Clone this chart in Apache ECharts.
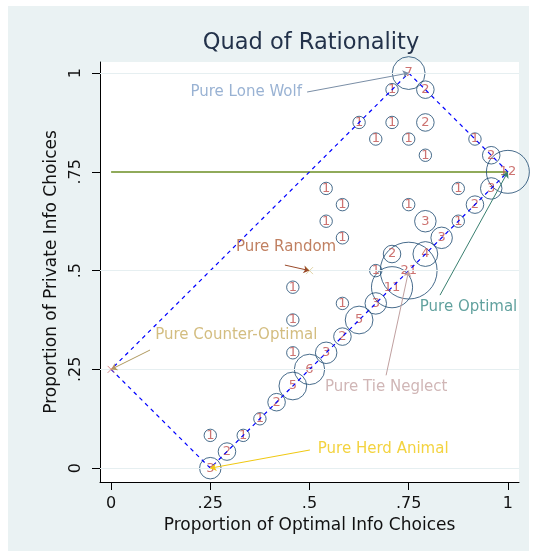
<!DOCTYPE html>
<html>
<head>
<meta charset="utf-8">
<script src="https://cdn.jsdelivr.net/npm/echarts@6/dist/echarts.min.js"></script>
<style>
  html, body { margin: 0; padding: 0; background: #fff; }
  #chart { width: 545px; height: 551px; }
</style>
</head>
<body>
<div id="chart"></div>
<script>
// ****** data ******
// proportion of optimal info choices (x), private info choices (y), number of subjects
var optX  = [0.75, 0.708, 0.792, 0.625, 0.708, 0.792, 0.667, 0.75, 0.792, 0.917, 0.958, 1.0,
             0.958, 0.875, 0.917, 0.875, 0.792, 0.833, 0.75, 0.792, 0.708, 0.75, 0.708, 0.667,
             0.667, 0.583, 0.625, 0.458, 0.458, 0.542, 0.583, 0.542, 0.583, 0.583, 0.458, 0.542,
             0.5, 0.458, 0.417, 0.375, 0.333, 0.25, 0.292, 0.25];
var privY = [1.0, 0.958, 0.958, 0.875, 0.875, 0.875, 0.833, 0.833, 0.792, 0.833, 0.792, 0.75,
             0.708, 0.708, 0.667, 0.625, 0.625, 0.583, 0.667, 0.542, 0.542, 0.5, 0.458, 0.5,
             0.417, 0.417, 0.375, 0.458, 0.375, 0.708, 0.667, 0.625, 0.583, 0.333, 0.292, 0.292,
             0.25, 0.208, 0.167, 0.125, 0.083, 0.083, 0.042, 0.0];
var counts = [7, 1, 2, 1, 1, 2, 1, 1, 1, 1, 2, 12,
              3, 1, 2, 1, 3, 3, 1, 4, 2, 21, 11, 1,
              3, 1, 5, 1, 1, 1, 1, 1, 1, 2, 1, 3,
              6, 5, 2, 1, 1, 1, 2, 3];

// quad corners (herd animal, counter-optimal, lone wolf, optimal)
var quadX = [0.25, 0, 0.75, 1, 0.25];
var quadY = [0, 0.25, 1, 0.75, 0];

// horizontal reference line
var refLineY = 0.75;
var refLineX = [0, 1];

var tickVals = [0, 0.25, 0.5, 0.75, 1];
var tickText = ['0', '.25', '.5', '.75', '1'];

// annotations: label, text anchor, arrow start, arrow end
var notes = ['Pure Lone Wolf', 'Pure Random', 'Pure Counter-Optimal', 'Pure Tie Neglect', 'Pure Optimal', 'Pure Herd Animal'];
var noteX = [0.481, 0.441, 0.111, 0.539, 0.778, 0.521];
var noteY = [0.952, 0.560, 0.337, 0.205, 0.408, 0.048];
var fromX = [0.494, 0.438, 0.098, 0.693, 0.829, 0.501];
var fromY = [0.952, 0.514, 0.299, 0.235, 0.438, 0.046];
var toX   = [0.75, 0.5, 0, 0.75, 1, 0.25];
var toY   = [1.0, 0.5, 0.25, 0.5, 0.75, 0];
var noteColor = ['#7f9fc8', '#b0603a', '#c8ac60', '#c4a4a4', '#3a8a86', '#f0c810'];
var lineColor = ['#7a8ea6', '#9a4a2a', '#b09a60', '#c0a0a0', '#3a8070', '#f0c810'];
var notePos   = ['left', 'inside', 'right', 'right', 'right', 'right'];

var FONT = 'DejaVu Sans, Verdana, sans-serif';

var pts = [];
for (var i = 0; i < optX.length; i++) {
    pts.push([optX[i], privY[i], counts[i]]);
}
var quad = [];
for (var i = 0; i < quadX.length; i++) {
    quad.push([quadX[i], quadY[i]]);
}
var noteData = [];
var arrowData = [];
for (var i = 0; i < notes.length; i++) {
    noteData.push({
        name: notes[i],
        value: [noteX[i], noteY[i]],
        label: { position: notePos[i], color: noteColor[i], distance: 0 }
    });
    arrowData.push({
        coords: [[fromX[i], fromY[i]], [toX[i], toY[i]]],
        lineStyle: { color: lineColor[i] }
    });
}

var chart = echarts.init(document.getElementById('chart'));
var option = {
    animation: false,
    backgroundColor: '#fff',
    textStyle: { fontFamily: FONT },
    graphic: [{
        type: 'rect', z: -1,
        shape: { x: 8, y: 6, width: 521, height: 545 },
        style: { fill: '#eaf2f3' }
    }],
    title: {
        text: 'Quad of Rationality',
        left: 306, top: 27, textAlign: 'center',
        textStyle: { fontSize: 22.5, fontWeight: 'normal', color: '#23324a', fontFamily: FONT }
    },
    grid: {
        left: 100, right: 26, top: 62, bottom: 69,
        show: true, backgroundColor: '#fff', borderWidth: 0
    },
    xAxis: {
        type: 'value', min: -0.028, max: 1.028,
        name: 'Proportion of Optimal Info Choices',
        nameLocation: 'middle', nameGap: 28,
        nameTextStyle: { fontSize: 17, color: '#111', fontFamily: FONT },
        axisLine: { show: true, onZero: false, lineStyle: { color: '#000' } },
        axisTick: { show: true, length: 8, customValues: tickVals, lineStyle: { color: '#000' } },
        axisLabel: {
            customValues: tickVals, margin: 14, fontSize: 16, color: '#111', fontFamily: FONT,
            formatter: function (v) { return tickText[tickVals.indexOf(v)]; }
        },
        splitLine: { show: false }
    },
    yAxis: {
        type: 'value', min: -0.035, max: 1.028,
        name: 'Proportion of Private Info Choices',
        nameLocation: 'middle', nameGap: 37,
        nameTextStyle: { fontSize: 17, color: '#111', fontFamily: FONT },
        axisLine: { show: true, onZero: false, lineStyle: { color: '#000' } },
        axisTick: { show: true, length: 8, customValues: tickVals, lineStyle: { color: '#000' } },
        axisLabel: {
            customValues: tickVals, margin: 16, fontSize: 16, color: '#111', rotate: 90, fontFamily: FONT,
            formatter: function (v) { return tickText[tickVals.indexOf(v)]; }
        },
        splitLine: { show: false }
    },
    series: [
        {
            // light grid lines
            type: 'line', data: [], z: 1, silent: true,
            markLine: {
                silent: true, symbol: 'none', label: { show: false },
                lineStyle: { color: '#e6eff1', type: 'solid', width: 1 },
                data: tickVals.filter(function (v) { return v !== refLineY; })
                              .map(function (v) { return { yAxis: v }; })
            }
        },
        {
            // 0.75 reference line
            type: 'lines', coordinateSystem: 'cartesian2d', z: 2, silent: true,
            symbol: 'none',
            lineStyle: { color: '#6b8e23', width: 1.7, opacity: 1 },
            data: [{
                coords: [[refLineX[0], refLineY], [refLineX[1], refLineY]],
                lineStyle: { color: '#6b8e23', width: 1.7 }
            }]
        },
        {
            type: 'scatter', data: pts, z: 3,
            symbol: 'circle',
            symbolSize: function (d) { return 12.4 * Math.sqrt(d[2]); },
            itemStyle: { color: 'rgba(0,0,0,0)', borderColor: '#1a476f', borderWidth: 1 },
            label: {
                show: true, position: 'inside', fontSize: 13, color: '#c0504d', fontFamily: FONT,
                formatter: function (p) { return p.value[2]; }
            },
            emphasis: { disabled: true }
        },
        {
            type: 'line', data: quad, z: 4, silent: true,
            symbol: 'none',
            lineStyle: { color: '#0000ff', width: 1.2, type: [4, 4] }
        },
        {
            type: 'lines', coordinateSystem: 'cartesian2d', z: 5, silent: true,
            symbol: ['none', 'arrow'], symbolSize: 6,
            lineStyle: { width: 1, opacity: 1 },
            data: arrowData
        },
        {
            // pure strategy marks
            type: 'scatter', z: 5, silent: true,
            symbol: 'path://M0,0L10,10M10,0L0,10', symbolSize: 7,
            data: [
                { value: [0.5, 0.5], itemStyle: { color: 'none', borderColor: '#d8c890', borderWidth: 1 } },
                { value: [0, 0.25], itemStyle: { color: 'none', borderColor: '#d07070', borderWidth: 1 } }
            ]
        },
        {
            type: 'scatter', z: 6, silent: true,
            symbolSize: 0,
            label: {
                show: true, fontSize: 15, fontFamily: FONT,
                formatter: function (p) { return p.name; }
            },
            data: noteData
        }
    ]
};
chart.setOption(option);
</script>
</body>
</html>
